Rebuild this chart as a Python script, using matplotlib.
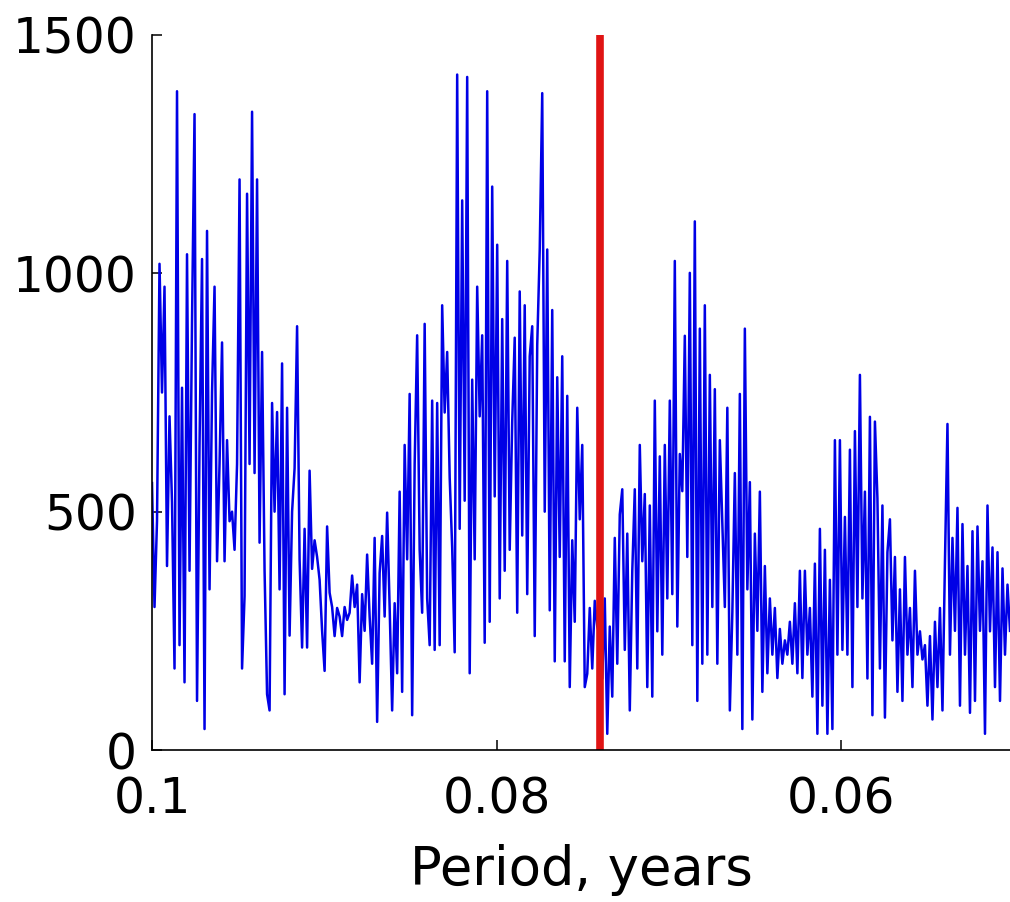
import numpy as np
from matplotlib import pyplot as plt

# spectrum values left to right (period 0.1 -> 0.05)
power_a = [560, 300, 480, 1020, 750, 972, 386, 700, 520, 171,
           1382, 220, 760, 142, 1040, 376, 900, 1334, 103, 640,
           1030, 44, 1089, 337, 750, 972, 396, 600, 855, 396,
           650, 480, 500, 420, 600, 1197, 171, 323, 1167, 600,
           1339, 581, 1197, 435, 835, 376, 117, 83, 728, 500,
           709, 337, 811, 117, 718, 240, 500]
power_b = [591, 889, 400, 215, 464, 215, 586, 380, 440, 405,
           357, 250, 166, 469, 330, 300, 239, 298, 280, 239,
           300, 273, 288, 366, 300, 347, 142, 327, 250, 410,
           280, 181, 445, 59, 371, 449, 280, 498, 300, 83,
           308, 161, 542, 122, 640, 400, 747, 73, 600, 870,
           420, 288, 894, 318, 220, 733, 210, 728]
power_c = [220, 933, 708, 835, 572, 425, 205, 1417, 464, 1153,
           523, 1412, 161, 777, 400, 972, 700, 870, 225, 1382,
           269, 1182, 532, 1060, 318, 904, 376, 1026, 420, 689,
           865, 288, 962, 450, 933, 327, 826, 889, 239, 850,
           1050, 1378, 500, 1050, 293, 923, 186, 782, 405, 826,
           186, 743, 132, 440, 269, 718, 484, 640, 132]
power_d = [160, 298, 171, 313, 259, 240, 150, 318, 34, 259,
           112, 445, 181, 494, 547, 210, 454, 83, 376, 547,
           171, 640, 396, 537, 132, 513, 112, 733, 249, 616,
           200, 640, 318, 733, 327, 1026, 259, 621, 543, 869,
           405, 1001, 220, 1109, 103, 884, 181, 933, 200, 787,
           300, 757, 181, 650, 474, 300, 718, 83, 288]
power_e = [581, 200, 747, 44, 884, 337, 562, 64, 454, 250,
           542, 122, 386, 161, 318, 200, 298, 151, 254, 181,
           230, 200, 269, 181, 308, 161, 376, 151, 376, 200,
           298, 112, 391, 34, 464, 93, 420, 34, 357, 44,
           650, 200, 650, 210, 489, 200, 630, 132, 669, 300,
           787, 318, 542, 150, 699, 73, 689]
power_f = [528, 171, 513, 68, 415, 484, 230, 405, 122, 337,
           103, 405, 200, 298, 132, 376, 200, 249, 190, 220,
           93, 239, 64, 269, 132, 298, 83, 396, 684, 200,
           445, 250, 508, 93, 474, 200, 386, 78, 459, 103,
           469, 250, 396, 34, 513, 249, 425, 132, 415, 103,
           381, 200, 347, 250]

power = power_a + power_b + power_c + power_d + power_e + power_f
period = np.linspace(0.1, 0.0502, len(power))

marked_period = 0.074
x_ticks = [0.1, 0.08, 0.06]
x_tick_labels = ["0.1", "0.08", "0.06"]
y_ticks = [0, 500, 1000, 1500]

plt.rcParams['font.family'] = ['DejaVu Sans']

fig = plt.figure(figsize=(10.10, 9.02), dpi=100)
ax = fig.add_axes([0.1505, 0.1685, 0.8495, 0.7927])

ax.plot(period, power, color='#0000e6', linewidth=1.8)
ax.axvline(marked_period, color='#e01414', linewidth=5.5)

ax.set_xlim(0.1, 0.0502)
ax.set_ylim(0, 1500)
ax.set_xticks(x_ticks)
ax.set_xticklabels(x_tick_labels)
ax.set_yticks(y_ticks)
ax.tick_params(direction='in', length=7, width=1.1, labelsize=35)
ax.tick_params(axis='y', pad=11)
ax.tick_params(axis='x', pad=18)

ax.spines['top'].set_visible(False)
ax.spines['right'].set_visible(False)
ax.spines['left'].set_linewidth(1.2)
ax.spines['bottom'].set_linewidth(1.2)

ax.set_xlabel("Period, years", fontsize=38, labelpad=15)

fig.savefig("out.png", dpi=100)
